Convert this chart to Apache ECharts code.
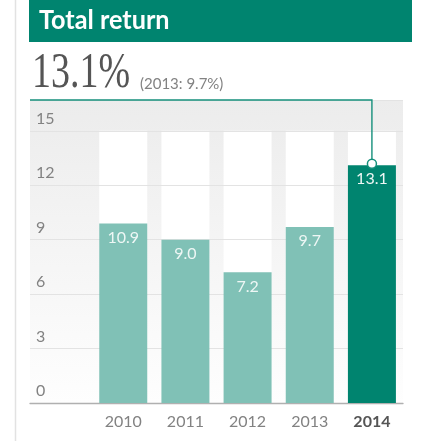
<!DOCTYPE html>
<html>
<head>
<meta charset="utf-8">
<script src="https://cdn.jsdelivr.net/npm/echarts@6/dist/echarts.min.js"></script>
<style>
  html, body { margin: 0; padding: 0; background: #fff; }
  #chart { width: 423px; height: 441px; }
</style>
</head>
<body>
<div id="chart"></div>
<script>
// data (first slot is an empty band on the left)
const years = ['', '2010', '2011', '2012', '2013', '2014'];
const barValues = [null, 9.9, 9.0, 7.2, 9.7, 13.1];
const barLabels = ['', '10.9', '9.0', '7.2', '9.7', '13.1'];
const columnTop = [null, 15, 15, 15, 15, 15];
const yTicks = [0, 3, 6, 9, 12, 15];
const title = 'Total return';
const headline = '13.1%';
const subline = '(2013: 9.7%)';
const highlight = 5;

const teal = '#00846f';
const lightTeal = '#80c1b6';
const sans = 'Lato, "Open Sans", sans-serif';
const labelGrey = '#828282';

var myChart = echarts.init(document.getElementById('chart'));

var option = {
  animation: false,
  grid: { left: 30, right: 20, top: 100, bottom: 38 },
  graphic: [
    { type: 'line', shape: { x1: 15.5, y1: 0, x2: 15.5, y2: 441 }, style: { stroke: '#e2e2e2', lineWidth: 1.5 } },
    { type: 'rect', shape: { x: 29, y: 0, width: 383, height: 42 }, style: { fill: teal } },
    {
      type: 'text', x: 39, y: 21, scaleX: 0.97,
      style: { text: title, x: 0, y: 0, fill: '#fff', font: 'bold 26px ' + sans, verticalAlign: 'middle' }
    },
    {
      type: 'text', x: 32, y: 74, scaleX: 0.76,
      style: { text: headline, x: 0, y: 0, fill: '#555', font: '50px "Liberation Serif", serif', verticalAlign: 'middle' }
    },
    {
      type: 'text', x: 140, y: 84,
      style: { text: subline, x: 0, y: 0, fill: labelGrey, font: '15px ' + sans, verticalAlign: 'middle' }
    }
  ],
  xAxis: {
    type: 'category',
    data: years,
    axisLine: { lineStyle: { color: '#b0b0b0', width: 1.3 } },
    axisTick: { show: false },
    axisLabel: {
      interval: 0,
      margin: 11,
      color: labelGrey,
      fontSize: 16,
      fontFamily: sans,
      formatter: function (v, i) { return i === highlight ? '{b|' + v + '}' : v; },
      rich: { b: { fontWeight: 'bold', color: '#555', fontSize: 16, fontFamily: sans } }
    }
  },
  yAxis: {
    type: 'value',
    min: 0,
    max: 16.7,
    interval: 3,
    axisLine: { show: false },
    axisTick: { show: false },
    splitLine: { lineStyle: { color: '#e3e3e3', width: 1 } },
    axisLabel: {
      inside: true,
      margin: 6,
      verticalAlign: 'bottom',
      padding: [0, 0, 4, 0],
      color: labelGrey,
      fontSize: 16,
      fontFamily: sans,
      formatter: function (v) { return yTicks.indexOf(v) >= 0 ? String(v) : ''; }
    }
  },
  series: [
    {
      // plot background, grey fading to white
      type: 'custom',
      z: -3,
      silent: true,
      data: [[0, 0]],
      renderItem: function (params, api) {
        var cs = params.coordSys;
        return {
          type: 'rect',
          shape: { x: cs.x, y: cs.y, width: cs.width, height: cs.height },
          style: {
            fill: new echarts.graphic.LinearGradient(0, 0, 0, 1, [
              { offset: 0, color: '#ececec' },
              { offset: 1, color: '#fefefe' }
            ])
          }
        };
      }
    },
    {
      // white columns behind bars
      type: 'bar',
      z: -2,
      silent: true,
      barWidth: 48,
      itemStyle: { color: '#fff' },
      data: columnTop
    },
    {
      type: 'bar',
      z: 2,
      barWidth: 48,
      barGap: '-100%',
      data: barValues.map(function (v, i) {
        return { value: v, itemStyle: { color: i === highlight ? teal : lightTeal } };
      }),
      label: {
        show: true,
        position: 'insideTop',
        distance: 6,
        color: '#eef7f5',
        fontSize: 16,
        fontFamily: sans,
        formatter: function (p) { return barLabels[p.dataIndex]; }
      }
    },
    {
      // connector from the headline down to the latest bar
      type: 'custom',
      z: 5,
      silent: true,
      data: [[highlight, barValues[highlight]]],
      renderItem: function (params, api) {
        var cs = params.coordSys;
        var p = api.coord([api.value(0), api.value(1)]);
        return {
          type: 'group',
          children: [
            {
              type: 'polyline',
              shape: { points: [[cs.x, cs.y], [p[0], cs.y], [p[0], p[1] - 2]] },
              style: { stroke: '#16907c', lineWidth: 1.4, fill: null }
            },
            {
              type: 'circle',
              shape: { cx: p[0], cy: p[1] - 1.5, r: 4.5 },
              style: { fill: '#fff', stroke: '#16907c', lineWidth: 1.5 }
            }
          ]
        };
      }
    }
  ]
};

option && myChart.setOption(option);
</script>
</body>
</html>
